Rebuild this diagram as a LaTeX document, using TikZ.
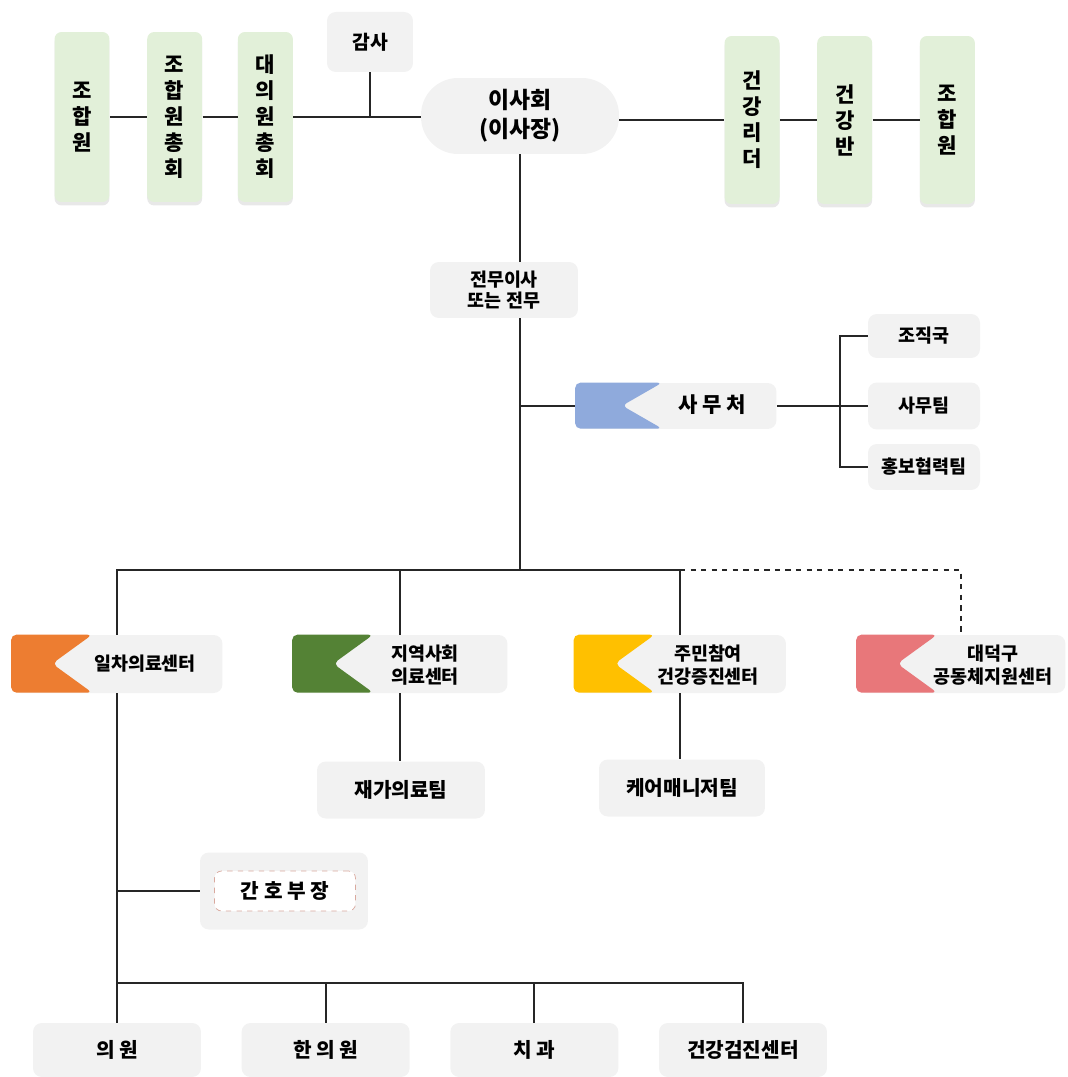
\documentclass[tikz,border=0pt]{standalone}
\usepackage{fontspec}
\setmainfont{Noto Sans CJK KR}
\usetikzlibrary{positioning,shadows}

\definecolor{boxgray}{HTML}{F2F2F2}
\definecolor{leafgreen}{HTML}{E2F0D9}
\definecolor{flagblue}{HTML}{8FAADC}
\definecolor{flagorange}{HTML}{ED7D31}
\definecolor{flaggreen}{HTML}{548235}
\definecolor{flagyellow}{HTML}{FFC000}
\definecolor{flagpink}{HTML}{E8777A}
\definecolor{notepink}{HTML}{D9A99E}

\begin{document}
\begin{tikzpicture}[x=0.02cm,y=-0.02cm,node distance=0.74cm,
  member/.style={fill=leafgreen,rounded corners=4pt,minimum width=1.1cm,minimum height=3.4cm,
    align=center,font=\bfseries\fontsize{12}{14.8}\selectfont,
    drop shadow={opacity=0.18,shadow xshift=0pt,shadow yshift=-2pt}},
  unit/.style={fill=boxgray,rounded corners=5pt,align=center,font=\bfseries\fontsize{10.5}{12}\selectfont},
  center/.style={unit,minimum width=4.24cm,minimum height=1.16cm},
  caption/.style={align=center,font=\bfseries\fontsize{10.5}{13}\selectfont},
  clinic/.style={unit,minimum width=3.36cm,minimum height=1.08cm,font=\bfseries\fontsize{11.5}{14}\selectfont},
  link/.style={draw=black!85,line width=1pt}]
  \useasboundingbox (0,0) rectangle (1067,1077);

  % members and board
  \node[member] (m1) at (82,117) {조\\합\\원};
  \node[member] (m2) [right=of m1] {조\\합\\원\\총\\회};
  \node[member] (m3) [right=0.7cm of m2] {대\\의\\원\\총\\회};
  \node[unit,minimum width=1.72cm,minimum height=1.2cm,font=\bfseries\fontsize{11}{13}\selectfont] (audit) at (370,42) {감사};
  \node[unit,minimum width=3.96cm,minimum height=1.52cm,rounded corners=0.74cm,
    font=\bfseries\fontsize{13}{16.4}\selectfont] (board) at (520,116) {이사회\\(이사장)};
  \node[member,minimum height=3.36cm] (h1) at (752,120) {건\\강\\리\\더};
  \node[member,minimum height=3.36cm] (h2) [right=of h1] {건\\강\\반};
  \node[member,minimum height=3.36cm] (h3) [right=0.94cm of h2] {조\\합\\원};

  \draw[link] (m1) -- (m2);
  \draw[link] (m2) -- (m3);
  \draw[link] (m3) -- (m3 -| board.west);
  \draw[link] (audit) -- (audit |- m3);
  \draw[link] (h1 -| board.east) -- (h1.west);
  \draw[link] (h1) -- (h2);
  \draw[link] (h2) -- (h3);

  % office
  \node[unit,minimum width=2.96cm,minimum height=1.12cm] (exec) at (504,290) {전무이사\\또는 전무};
  \node[unit,minimum width=4.02cm,minimum height=0.92cm] (office) at (676,406) {};
  \fill[flagblue,rounded corners=3pt] (office.north west) -- ++(87,0) -- ++(-40,23) -- ++(40,23) -- ++(-87,0) -- cycle;
  \node[caption,font=\bfseries\fontsize{12}{14}\selectfont] (officetext) at (712,405) {사 무 처};
  \node[unit,minimum width=2.24cm,minimum height=0.88cm] (t1) at (924,336) {조직국};
  \node[unit,minimum width=2.24cm,minimum height=0.94cm] (t2) at (924,406) {사무팀};
  \node[unit,minimum width=2.24cm,minimum height=0.92cm] (t3) at (924,467) {홍보협력팀};
  \coordinate (hub) at (520,570);

  \draw[link] (board.south) -- (board.south |- exec.north);
  \draw[link] (hub |- exec.south) -- (hub);
  \draw[link] (hub |- office) -- (office.west);
  \draw[link] (office.east) -- (t2.west);
  \draw[link] (t1.west) -- ++(-28,0) |- (t3.west);

  % centers
  \node[center,minimum width=4.22cm] (pc) at (117,664) {};
  \node[center,minimum width=4.3cm] (cc) at (400,664) {};
  \node[center,minimum width=4.24cm] (yc) at (680,664) {};
  \node[center,minimum width=4.18cm] (dc) at (961,664) {};
  \foreach \n/\c in {pc/flagorange,cc/flaggreen,yc/flagyellow,dc/flagpink}
    \fill[\c,rounded corners=3pt] (\n.north west) -- ++(81,0) -- ++(-40,29) -- ++(40,29) -- ++(-81,0) -- cycle;
  \node[caption] (pctext) at (145,664) {일차의료센터};
  \node[caption] (cctext) at (425,665) {지역사회\\의료센터};
  \node[caption] (yctext) at (708,665) {주민참여\\건강증진센터};
  \node[caption] (dctext) at (993,665) {대덕구\\공동체지원센터};

  \draw[link] (pc.north) -- (pc.north |- hub) -- (yc.north |- hub) -- (yc.north);
  \draw[link] (cc.north) -- (cc.north |- hub);
  \draw[link,dashed] (yc.north |- hub) -- (dc.north |- hub) -- (dc.north);

  % teams under centers
  \node[unit,minimum width=3.36cm,minimum height=1.14cm,font=\bfseries\fontsize{11.5}{13}\selectfont] (home) at (401,790) {재가의료팀};
  \node[unit,minimum width=3.32cm,minimum height=1.14cm,font=\bfseries\fontsize{11.5}{13}\selectfont] (care) at (682,788) {케어매니저팀};
  \draw[link] (cc.south) -- (cc.south |- home.north);
  \draw[link] (yc.south) -- (yc.south |- care.north);

  % clinics
  \node[unit,minimum width=3.36cm,minimum height=1.54cm] (nurse) at (284,891) {};
  \node[draw=notepink,dashed,fill=white,rounded corners=4pt,minimum width=2.82cm,minimum height=0.8cm,
    font=\bfseries\fontsize{11.5}{14}\selectfont] (nursetext) at (285,891) {간 호 부 장};
  \node[clinic] (c1) at (117,1050) {의 원};
  \node[clinic] (c2) [right=0.8cm of c1] {한 의 원};
  \node[clinic] (c3) [right=0.8cm of c2] {치 과};
  \node[clinic] (c4) [right=0.8cm of c3] {건강검진센터};
  \coordinate (lowbus) at (117,983);

  \draw[link] (pc.south) -- (c1.north);
  \draw[link] (pc.south |- nurse) -- (nurse.west);
  \draw[link] (lowbus) -- (lowbus -| c4.north) -- (c4.north);
  \draw[link] (c2.north) -- (c2.north |- lowbus);
  \draw[link] (c3.north) -- (c3.north |- lowbus);
\end{tikzpicture}
\end{document}
